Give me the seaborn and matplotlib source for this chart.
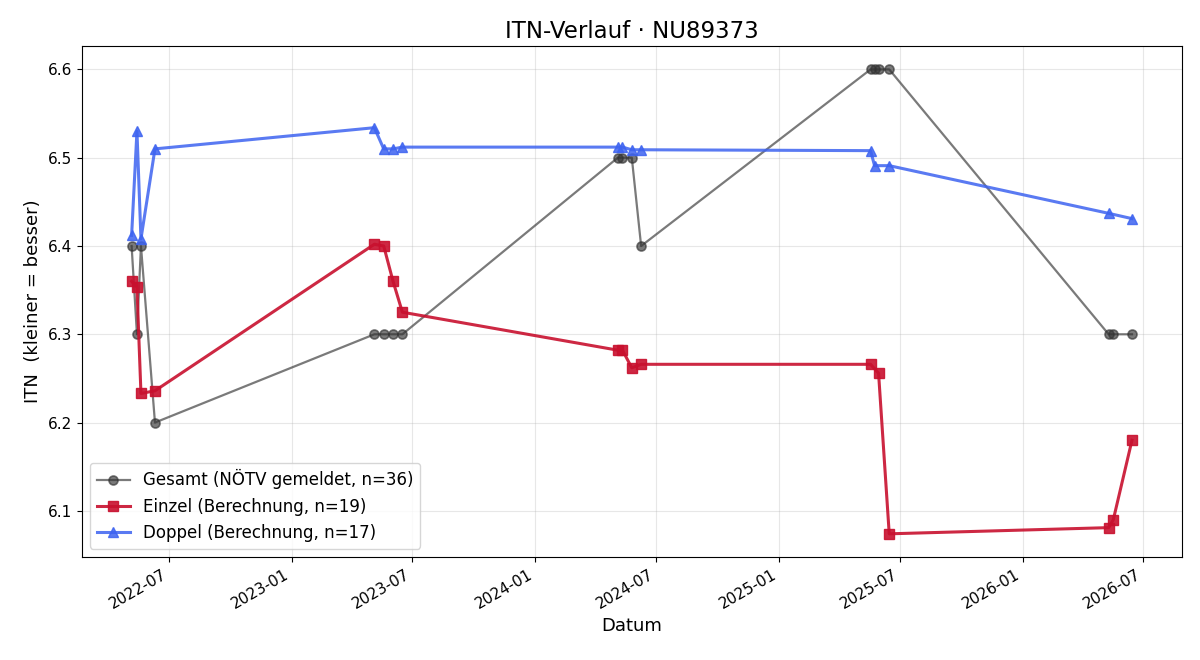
import pandas as pd
import seaborn as sns
import matplotlib
matplotlib.use('Agg')
import matplotlib.pyplot as plt
import matplotlib.dates as mdates

# ITN values
gesamt_dates = ['2022-05-06', '2022-05-14', '2022-05-20', '2022-06-10',
                '2023-05-05', '2023-05-19', '2023-06-02', '2023-06-16',
                '2024-05-04', '2024-05-11', '2024-05-25', '2024-06-08',
                '2025-05-18', '2025-05-24', '2025-05-30', '2025-06-15',
                '2026-05-10', '2026-05-17', '2026-06-14']
gesamt_itn = [6.4, 6.3, 6.4, 6.2,
              6.3, 6.3, 6.3, 6.3,
              6.5, 6.5, 6.5, 6.4,
              6.6, 6.6, 6.6, 6.6,
              6.3, 6.3, 6.3]

einzel_dates = ['2022-05-06', '2022-05-14', '2022-05-20', '2022-06-10',
                '2023-05-05', '2023-05-19', '2023-06-02', '2023-06-16',
                '2024-05-04', '2024-05-11', '2024-05-25', '2024-06-08',
                '2025-05-18', '2025-05-30', '2025-06-15',
                '2026-05-10', '2026-05-17', '2026-06-14']
einzel_itn = [6.360, 6.353, 6.233, 6.236,
              6.402, 6.400, 6.360, 6.325,
              6.282, 6.282, 6.262, 6.266,
              6.266, 6.256, 6.074,
              6.081, 6.090, 6.180]

doppel_dates = ['2022-05-06', '2022-05-14', '2022-05-20', '2022-06-10',
                '2023-05-05', '2023-05-19', '2023-06-02', '2023-06-16',
                '2024-05-04', '2024-05-11', '2024-05-25', '2024-06-08',
                '2025-05-18', '2025-05-24', '2025-06-15',
                '2026-05-10', '2026-06-14']
doppel_itn = [6.412, 6.530, 6.408, 6.510,
              6.534, 6.510, 6.510, 6.512,
              6.512, 6.512, 6.509, 6.509,
              6.508, 6.491, 6.491,
              6.437, 6.431]

df_g = pd.DataFrame({'Datum': pd.to_datetime(gesamt_dates), 'ITN': gesamt_itn})
df_e = pd.DataFrame({'Datum': pd.to_datetime(einzel_dates), 'ITN': einzel_itn})
df_d = pd.DataFrame({'Datum': pd.to_datetime(doppel_dates), 'ITN': doppel_itn})

fig, ax = plt.subplots(figsize=(12, 6.6), dpi=100)

sns.lineplot(data=df_g, x='Datum', y='ITN', ax=ax, color='#333333', alpha=0.65,
             marker='o', markersize=6.5, markeredgewidth=1.2, markeredgecolor='#333333',
             linewidth=1.6, label='Gesamt (NÖTV gemeldet, n=36)')
sns.lineplot(data=df_e, x='Datum', y='ITN', ax=ax, color='#c8102e', alpha=0.9,
             marker='s', markersize=7, markeredgewidth=1, markeredgecolor='#c8102e',
             linewidth=2.2, label='Einzel (Berechnung, n=19)')
sns.lineplot(data=df_d, x='Datum', y='ITN', ax=ax, color='#3d63f0', alpha=0.85,
             marker='^', markersize=7, markeredgewidth=1, markeredgecolor='#3d63f0',
             linewidth=2.2, label='Doppel (Berechnung, n=17)')

ax.set_title('ITN-Verlauf · NU89373', fontsize=16.5)
ax.set_xlabel('Datum', fontsize=13)
ax.set_ylabel('ITN  (kleiner = besser)', fontsize=13)
ax.tick_params(labelsize=11)
ax.grid(True, alpha=0.3)
ax.xaxis.set_major_locator(mdates.MonthLocator(bymonth=[1, 7]))
ax.xaxis.set_major_formatter(mdates.DateFormatter('%Y-%m'))
ax.legend(loc='lower left', fontsize=12)
fig.autofmt_xdate()

plt.subplots_adjust(left=0.068, right=0.985, top=0.930, bottom=0.156)
plt.savefig('out.png')
